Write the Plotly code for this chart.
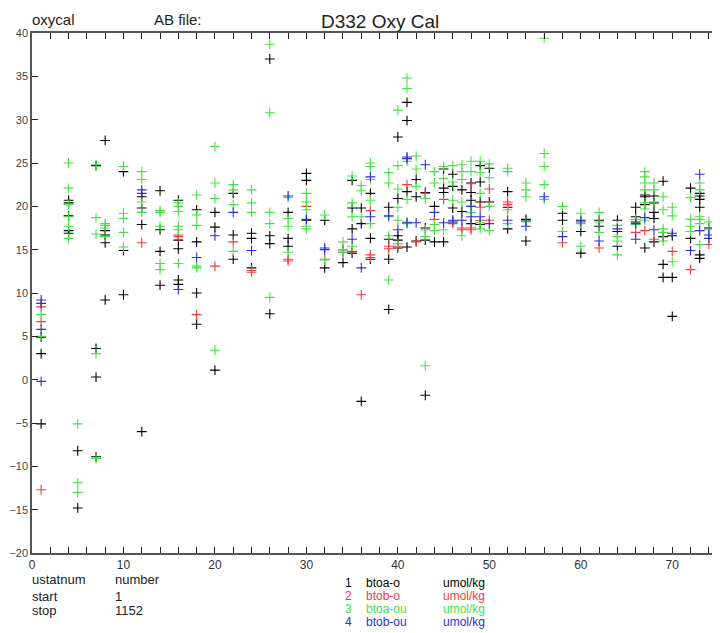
import plotly.graph_objects as go

# station number -> values (umol/kg)
btoa_o = [
    (1, [4.9, 3.0, -5.1]), (4, [20.7, 20.4, 18.9, 17.2, 16.9]), (5, [-8.2, -14.8]),
    (7, [24.7, 3.6, 0.3, -8.9]), (8, [27.6, 17.2, 16.7, 15.8, 9.2]), (10, [24.0, 14.9, 9.8]),
    (12, [21.1, 19.8, 17.9, -6.0]), (14, [21.8, 17.3, 14.8, 10.9]), (16, [20.7, 16.1, 15.1, 11.5, 11.0]),
    (18, [19.6, 15.9, 10.0, 6.4]), (20, [19.3, 17.6, 1.1]), (22, [21.5, 16.7, 13.9]),
    (24, [16.9, 16.3, 12.9]), (26, [37.0, 16.6, 15.7, 7.6]), (28, [19.3, 16.3, 15.4]),
    (30, [23.8, 23.0, 18.4]), (32, [18.4, 12.9]), (34, [15.0, 13.5]), (35, [23.0, 19.8, 17.4, 14.6]),
    (36, [19.8, 18.0, -2.5]), (37, [21.5, 16.3, 13.9]), (39, [19.9, 16.2, 13.9, 8.1]),
    (40, [28.0, 20.9, 16.6, 16.1, 15.2]), (41, [32.0, 29.9, 21.7, 15.3]), (42, [23.1, 21.1, 16.0]),
    (43, [21.6, 17.5, 16.1, -1.8]), (44, [20.0, 15.9]), (45, [24.3, 22.1, 21.6, 15.9]),
    (46, [23.7, 22.3, 19.8, 18.2]), (47, [21.9, 19.4]), (48, [22.7, 21.6, 20.7, 18.0]),
    (49, [24.7, 22.8, 20.5, 17.9]), (50, [24.4, 20.5]), (52, [21.7, 19.9, 17.4]),
    (54, [18.5, 18.3, 16.0]), (58, [19.2, 18.4]), (60, [18.4, 17.1, 14.6]), (62, [18.4, 17.7]),
    (64, [18.4, 17.1, 15.4]), (66, [19.9, 18.8, 18.2]), (67, [21.3, 21.1, 20.2, 15.2]),
    (68, [21.2, 20.4, 19.3, 18.6, 15.9]), (69, [22.9, 16.5, 13.3, 11.8]), (70, [16.6, 11.8, 7.3]),
    (72, [22.1, 16.3]), (73, [21.5, 21.2, 20.8, 19.9, 14.4, 14.0]), (74, [17.5]),
]

btob_o = [
    (1, [8.4, 6.7, -12.7]), (12, [15.8]), (16, [16.7, 16.5]), (18, [7.5]), (20, [13.1]),
    (22, [15.9]), (24, [12.6, 12.4]), (28, [13.9, 13.7]), (30, [20.0]), (32, [13.9]),
    (34, [14.7]), (35, [14.8]), (36, [9.8]), (37, [19.5, 14.4, 14.1]), (39, [15.4, 15.1]),
    (40, [15.4]), (41, [22.5]), (42, [15.9]), (43, [21.5]), (44, [18.5]), (45, [20.8]),
    (46, [18.0]), (47, [17.5, 17.3]), (48, [22.6, 17.5, 17.3]), (49, [19.9, 18.4]),
    (50, [22.0, 18.4]), (52, [20.5, 20.2]), (58, [15.8]), (62, [15.2]), (66, [17.0]),
    (67, [17.2]), (68, [16.2]), (70, [14.8]), (72, [12.7]), (74, [15.6]),
]

btoa_ou = [
    (1, [7.5, 5.0]), (4, [25.0, 22.1, 20.2, 18.8, 17.7, 16.3]), (5, [-5.1, -11.9, -13.0]),
    (7, [24.8, 18.7, 16.8, 3.0, -9.1]), (8, [18.0, 17.8, 17.5, 16.5]), (10, [24.6, 19.2, 18.6, 17.0, 15.3]),
    (12, [24.0, 23.1, 20.5, 19.3]), (14, [19.5, 19.3, 17.7, 13.4, 12.7]),
    (16, [20.4, 20.0, 19.4, 17.7, 17.3, 13.4]), (18, [21.3, 19.0, 17.8, 13.1, 12.9]),
    (20, [26.9, 22.7, 20.9, 3.4]), (22, [22.5, 21.9, 20.2, 14.8]), (24, [21.9, 20.4, 19.3]),
    (26, [38.7, 30.8, 19.3, 18.0, 9.5]), (28, [21.0, 18.6, 17.7, 14.7]),
    (30, [21.5, 20.5, 19.6, 17.7, 17.4]), (32, [19.0, 13.8]), (34, [15.9, 15.0, 14.7]),
    (35, [23.5, 20.4, 18.8, 15.4]), (36, [22.4, 21.8, 18.8]), (37, [25.0, 24.6, 23.1, 20.7, 18.0]),
    (39, [23.9, 22.7, 18.8, 16.6, 11.5]), (40, [31.1, 24.7, 22.0, 19.9, 18.4, 15.7]),
    (41, [34.8, 33.6, 25.2, 20.8, 18.2, 18.0]), (42, [25.8, 24.3, 22.3]), (43, [20.9, 17.3, 16.5, 1.6]),
    (44, [24.0, 22.7, 17.9, 17.2]), (45, [24.6, 23.2, 17.3]), (46, [24.7, 22.8, 20.7, 18.3]),
    (47, [24.8, 24.0, 23.1, 20.5, 16.6]), (48, [25.2, 24.0, 20.0, 19.3]),
    (49, [25.2, 23.9, 21.5, 18.1, 17.4]), (50, [24.9, 23.3, 20.0, 17.2]), (52, [24.4, 24.0, 19.6, 18.0]),
    (54, [22.7, 21.9, 21.1, 18.2]), (56, [39.4, 26.1, 24.6, 22.5, 20.8]), (58, [20.0, 17.1]),
    (60, [19.2, 18.0, 15.4]), (62, [19.3, 18.2, 17.0]), (64, [17.8, 16.5, 16.0, 14.4]),
    (66, [18.5, 17.9]), (67, [24.0, 23.4, 22.7, 21.9, 20.4, 19.7, 18.4]), (68, [22.7, 21.9, 20.5]),
    (69, [21.1, 19.6, 17.4, 17.0, 16.0]), (70, [19.9, 18.9, 13.6]), (72, [21.0, 18.5, 17.7, 17.1]),
    (73, [22.7, 21.9, 18.8, 18.5, 18.0, 15.6]), (74, [18.2, 17.3]),
]

btob_ou = [
    (1, [9.2, 8.8, 5.8, -0.2]), (12, [21.9, 21.5]), (16, [10.4]), (18, [14.1]), (20, [16.6]),
    (22, [19.3]), (24, [14.9]), (28, [21.2]), (30, [18.5]), (32, [15.2, 15.0]), (35, [16.2]),
    (36, [12.9]), (37, [23.4, 18.8]), (39, [18.9]), (40, [17.3]), (41, [25.7, 25.5, 18.1]),
    (42, [18.1]), (43, [24.8]), (44, [19.3]), (45, [18.1]), (46, [18.4]), (47, [18.4]),
    (48, [20.0, 18.8]), (49, [18.8]), (50, [18.0]), (52, [18.4]), (54, [17.7]), (56, [21.1]),
    (58, [16.5]), (60, [18.2]), (62, [16.0]), (64, [17.4]), (66, [16.2, 18.0]), (67, [18.7]),
    (68, [17.3]), (70, [16.9]), (72, [14.9]), (73, [23.7, 17.2]), (74, [16.7, 16.3]),
]

series_names = ["btoa-o", "btob-o", "btoa-ou", "btob-ou"]
series_colors = ["#000000", "#f23c3c", "#45e045", "#2d2ddc"]
series_data = [btoa_o, btob_o, btoa_ou, btob_ou]

x_tick_vals = list(range(0, 76, 2))
x_tick_text = [str(v) if v % 10 == 0 else "" for v in x_tick_vals]

# page body has an 8px margin, so the figure is drawn 8px smaller and shifted
OFF = 8
W, H = 720 - OFF, 633 - OFF
L, R, T, B = 32 - OFF, 2, 33 - OFF, 80
pw, ph = W - L - R, H - T - B


def px(x):
    return (x - OFF - L) / pw


def py(y):
    return (H - B - (y - OFF)) / ph


fig = go.Figure()
for name, col, data in zip(series_names, series_colors, series_data):
    xs, ys = [], []
    for stn, vals in data:
        for v in vals:
            xs.append(stn)
            ys.append(v)
    fig.add_trace(go.Scatter(
        x=xs, y=ys, mode="markers", name=name,
        marker=dict(symbol="cross-thin", size=7, color=col,
                    line=dict(width=1.1, color=col)),
    ))

font = "Liberation Sans, Arial, sans-serif"


def note(text, x, y, size=13, color="#222", anchor="left"):
    fig.add_annotation(text=text, x=px(x), y=py(y), xref="paper", yref="paper",
                       xanchor=anchor, yanchor="middle", showarrow=False,
                       borderpad=0, font=dict(family=font, size=size, color=color))


note("oxycal", 31, 19, size=15)
note("AB file:", 153, 19, size=15)
note("D332 Oxy Cal", 380, 21, size=19, anchor="center")

note("ustatnum", 31, 579)
note("number", 114, 579)
note("start", 31, 596)
note("1", 114, 596)
note("stop", 31, 610)
note("1152", 114, 610)

for i, (name, col) in enumerate(zip(series_names, series_colors)):
    yy = 583 + i * 13
    note(str(i + 1), 348, yy, size=12, color=col, anchor="center")
    note(name, 365, yy, size=12, color=col)
    note("umol/kg", 442, yy, size=12, color=col)

fig.update_layout(
    width=W, height=H,
    margin=dict(l=L, r=R, t=T, b=B),
    plot_bgcolor="white", paper_bgcolor="white",
    showlegend=False,
    font=dict(family=font, size=12, color="#333"),
    xaxis=dict(
        range=[0, 75], tickvals=x_tick_vals, ticktext=x_tick_text,
        ticks="inside", ticklen=6, tickcolor="#222", tickwidth=1,
        showline=True, linecolor="#555", linewidth=1.5, mirror="ticks",
        showgrid=False, zeroline=False, tickfont=dict(size=12, color="#333"),
    ),
    yaxis=dict(
        range=[-20, 40], dtick=5, ticks="inside", ticklen=6, tickcolor="#222",
        showline=True, linecolor="#555", linewidth=1.5,
        showgrid=False, zeroline=False, tickfont=dict(size=11, color="#444"),
    ),
)

fig.write_html("out.html")
